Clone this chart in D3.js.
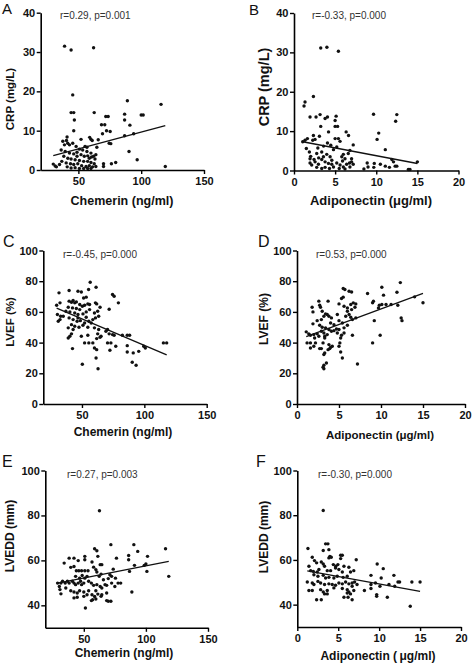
<!DOCTYPE html>
<html><head><meta charset="utf-8">
<script src="https://cdn.jsdelivr.net/npm/d3@7"></script>
<style>body{margin:0;background:#fff}svg{display:block;font-family:Arial,"Liberation Sans",sans-serif}</style>
</head><body><svg id="c" width="472" height="666"></svg>
<script>
// ---- data (x, y) ----
const chemerinCRP = [[39,31.5],[44.2,30.5],[62.1,31.1],[45.5,19.1],[89,17.6],[115.8,16.7],[44.2,14.6],[46.3,14.6],[62.6,14.6],[71.8,13.6],[73.7,13.6],[86.8,14.2],[100,14.0],[101.6,14.0],[46.8,12.7],[86.8,12.7],[68.4,11.5],[71,11.5],[46.3,10.0],[72.4,10.0],[75.3,9.8],[91,11.4],[69.2,9.2],[65.8,7.7],[41,8.4],[40.5,7.5],[41.5,6.8],[52.1,7.8],[59,8.3],[60,7.8],[61,7.5],[86.8,8.7],[94,9.2],[74.5,6.8],[75.8,6.7],[64.7,5.8],[56.8,5.8],[90.3,4.7],[96.8,2.6],[119.2,0.9],[79.7,1.9],[76.3,1.6],[70,1.6],[70,0.9],[30,1.5],[31.5,1.0],[32.5,0.8],
[37.6,7.3],[38.9,6.4],[42.9,6.4],[45.5,6.8],[48.2,6.0],[50.8,5.3],[53.4,5.1],[56.8,4.7],[60.0,4.3],[62.1,3.5],[63.9,3.9],[36.3,5.1],[39.5,4.7],[42.9,4.3],[46.3,4.1],[48.9,4.5],[52.1,3.9],[54.7,3.5],[57.4,3.6],[60.5,3.3],[63.2,2.8],[38.4,3.5],[41.6,3.0],[44.2,2.8],[47.4,2.6],[50.8,2.4],[54.2,2.2],[57.4,2.2],[60.0,1.9],[62.6,1.6],[36.8,2.2],[40.3,1.8],[43.7,1.6],[46.3,1.4],[49.5,1.6],[52.6,1.1],[56.1,0.9],[58.7,1.1],[61.3,0.8],[63.9,0.9],[41.1,0.8],[44.2,0.5],[47.4,0.6],[50.8,0.4],[54.2,0.4],[57.4,0.4],[60.0,0.4],[35.0,1.4],[48.9,3.5],[55.3,6.0],[58.7,3.0]];

const adiponectinCRP = [[3.25,31.1],[4.0,31.3],[5.4,30.3],[2.36,18.8],[1.34,17.4],[1.22,16.4],[1.95,13.6],[2.68,13.6],[3.17,14.2],[3.78,13.2],[4.07,13.6],[5.12,13.8],[5.0,12.7],[9.67,14.3],[12.5,14.2],[12.36,12.5],[3.25,11.2],[5.0,11.2],[5.3,11.2],[10.3,9.5],[10.1,7.9],[6.34,9.8],[6.63,8.9],[11.1,5.3],[1.06,7.3],[1.34,7.7],[1.63,8.1],[2.36,8.9],[2.56,7.9],[3.09,8.7],[2.28,7.7],[4.07,7.0],[4.47,6.4],[5.0,8.1],[5.4,8.1],[5.6,7.4],[5.2,6.0],[4.8,5.3],[6.8,5.1],[6.6,4.3],[11.9,2.8],[12.1,2.2],
[1.87,4.7],[2.03,3.6],[2.76,4.3],[3.37,4.7],[3.58,3.5],[3.98,4.1],[4.39,3.5],[5.81,3.5],[6.0,4.1],[6.2,3.0],[7.0,3.0],[1.95,1.9],[2.15,1.4],[2.56,2.2],[2.97,1.6],[3.37,2.8],[3.78,2.2],[4.19,1.8],[4.59,1.6],[4.8,0.9],[5.2,1.9],[5.6,1.4],[6.0,0.9],[6.4,1.6],[6.75,1.9],[7.0,2.2],[7.2,1.6],[2.76,0.8],[3.37,0.5],[3.78,0.8],[4.31,0.5],[5.5,0.5],[6.2,0.4],[6.8,0.9],[8.9,1.9],[9.0,0.9],[8.5,0.4],[9.7,0.8],[9.76,1.8],[10.5,1.6],[11.1,1.1],[11.6,0.8],[12.3,1.1],[12.5,1.1],[13.9,0.25],[14.1,0.25],[15,2.2],[1.95,3.0],[2.44,2.8],[4.6,2.6],[3.0,3.2],[5.9,2.4],[1.5,5.6],[2.9,5.7],[3.6,6.2],[4.2,9.8],[7.2,6.5]];

const chemerinLVEF = [[56.6,79.3],[61.3,76.1],[55.3,74.6],[31.6,72.4],[39.7,73.9],[46.8,73.5],[49.5,73.0],[51.3,69.1],[53.4,69.6],[74.5,71.3],[75.8,70.2],[79.2,65.9],[32.4,65.9],[29.7,64.3],[39.7,67],[41.6,66.3],[42.9,67.4],[44.2,65.9],[45.5,66.5],[48.2,64.8],[50.3,63.7],[52.1,64.3],[54.7,65.2],[56.1,64.8],[60.8,65.9],[61.8,65.2],[64.5,63.0],[39,63],[42.4,62.6],[45.5,62.2],[48.2,61.5],[56.1,61.5],[30.3,58.3],[32.9,57.2],[35,57.2],[40.3,60],[44.2,59.3],[46.8,58.3],[50.8,58.7],[53.4,60],[60,59.3],[62.6,60.4],[71.8,61.7],[63.4,57.2],[60.8,56.1],[58.7,55],[31,53.9],[32.4,55],[39.7,56.1],[42.9,55],[46.1,53.9],[48.7,54.3],[52.1,52.8],[55.5,53.9],[57.4,52.8],[41.6,51.7],[44.2,50.7],[47.6,50],[50.8,51.3],[54.7,50],[39,49.6],[42.9,48.5],[60,49.6],[63.4,48.5],[70.5,48.5],[69.2,47.4],[71.8,45.7],[74.5,45.2],[75.8,44.8],[82.4,44.8],[86.3,44.8],[88.2,44.8],[41.6,45.7],[40.3,44.1],[39,43.0],[49.5,44.1],[54.7,44.8],[62.6,45.7],[65.3,44.1],[61.8,42.6],[64.5,43.5],[70.5,39.8],[73.2,39.8],[52.1,39.8],[55.5,39.8],[58.7,39.8],[77.1,37.6],[86.3,38],[100.8,36.5],[99.5,37.6],[115.3,39.8],[117.9,39.8],[60,36.5],[61.8,35.4],[72.4,35],[86.3,33.9],[91.1,33.3],[95.5,34.3],[42.4,36.1],[61.3,30],[50.3,25.9],[62.9,23],[90.3,27.2],[93.4,25.2],[46.8,56.1],[53.4,56.5],[37.1,60.4]];

const adiponectinLVEF = [[12.3,79.1],[10.1,76.1],[10.3,70.9],[5.5,75.2],[5.7,74.6],[6.2,73.5],[6.5,73.0],[8.4,72],[11.9,72.8],[14,69.8],[15,66],[5.5,69.6],[5.3,68.7],[2.6,67],[2.7,64.3],[2.8,63],[3.7,67],[5,65.2],[5.6,63.7],[6,62.6],[6.4,64.8],[6.7,65.9],[7,65.2],[6.9,63],[6.5,61.5],[1.8,63],[1.9,60],[9.1,67],[9,65.9],[9.8,64.3],[10.1,64.8],[10.6,64.8],[11.2,64.8],[12,64.3],[9.7,62.6],[3,60.4],[3.4,58.7],[3.2,57.2],[3.6,58.3],[3.8,57.2],[4.1,56.1],[2.9,55],[2.4,54.3],[6,60.4],[6.2,58.3],[5.8,57.2],[6.4,56.5],[7,56.1],[6.6,55],[12.4,56.1],[12.5,54.3],[9.2,54.3],[1.9,52.2],[2.7,51.3],[3,50],[4,52.8],[4.4,51.7],[5,54.3],[5.4,52.8],[6,51.3],[5.6,49.6],[5,48.5],[4.7,48.9],[3.4,49.6],[3.8,48.5],[4.1,47.4],[1.1,47],[1.4,45.7],[1.6,44.8],[2,45.2],[2.4,45.7],[2.6,44.1],[2.1,43],[2.9,47.4],[3.2,46.3],[3.3,44.1],[3.6,45.2],[4.4,47.8],[4.8,46.3],[5.3,44.8],[5.2,43],[5.6,46.3],[6.6,44.8],[9.9,44.8],[1.2,39.8],[1.6,39.8],[2.2,39.8],[2,37.6],[1.6,36.5],[3.3,43],[3.1,39.8],[2.7,36.1],[2.9,36.1],[3.8,38.7],[4,37],[4.2,37.6],[3.7,35.4],[3.9,36.1],[5.1,39.8],[5,37.6],[3.3,33.3],[3.2,32.2],[5.2,33.9],[5.4,30],[3.5,26.7],[3.2,25.2],[3.2,23],[3.1,24],[7.2,26.1],[9,39.8],[4.8,58.3]];

const chemerinLVEDD = [[62.6,82.1],[71.8,67],[90.3,67],[58.7,65.2],[60.5,64.3],[61.3,61.8],[115.8,65.2],[93.4,64],[50.8,61.8],[50.8,60.3],[76.3,61],[86.1,62.2],[86.1,60.3],[101.3,61.8],[34.2,58.8],[38.2,61],[42.1,61],[45.5,59.9],[56.6,59.3],[63.2,58.1],[64.5,58.1],[73.7,56.1],[90.8,57.8],[98.7,57.8],[100,58.4],[100.8,55.1],[86.8,55.1],[118.4,52.9],[39.5,56.9],[42.1,57.3],[44,55.4],[46,55.4],[48.2,55.4],[50.8,55.4],[53.4,55.4],[57.9,57],[59.7,55.9],[63.9,53.9],[62.4,52.9],[60.5,54.8],[48.7,53.3],[50.8,52.1],[52.6,52.9],[46.6,52.1],[43.4,52.9],[71,53.6],[72.4,52.9],[69.7,51.9],[65.8,51.4],[75.5,52.1],[77.6,49.9],[79.7,49.9],[28.9,49.9],[30.3,48.4],[31.6,49.9],[32.9,50.7],[35,49.9],[36.8,50.7],[38.2,49.9],[40.8,50.7],[42.1,49.9],[43.4,49.2],[45.5,49.9],[47.4,50.7],[48.2,49.2],[50,49.9],[53.9,50.7],[56.1,49.9],[57.9,48.9],[60.5,49.2],[63.2,48.4],[67.1,49.2],[68.4,48.9],[72.4,49.9],[75,48.4],[30.8,47],[31.6,45.1],[35.5,47.7],[39.5,46.5],[42.1,45.9],[44.7,45.5],[46.6,46.5],[50,45.9],[53.9,46.5],[59.7,46.5],[64.5,47.7],[68.4,45.5],[56.6,44.7],[58.7,43.9],[59.7,42.8],[57.1,42.5],[56.1,42.1],[42.1,43.3],[44.7,43.6],[50,44],[52.6,44.7],[63.9,44],[68.4,42.1],[69.7,41.8],[71.8,41.8],[88.7,45.9],[51.3,38.8],[64.5,44.7],[61.3,45]];

const adiponectinLVEDD = [[3.17,82.1],[3.46,67.2],[3.74,67.2],[3.17,64.2],[3.86,64.6],[1.3,65.1],[3.98,61.6],[4.15,61.2],[3.86,60.9],[5.3,62.1],[5.5,62.1],[5.3,60.6],[7.2,60.1],[1.83,61.2],[2.1,59.7],[2.36,58.7],[2.93,59.1],[3.17,58.2],[3.33,57.2],[4.4,57.9],[4.7,57.2],[4.96,57.9],[5.7,57.2],[6.3,56.7],[9.76,58.2],[10.5,56.1],[1.42,57.2],[1.63,55.2],[1.95,54.9],[2.44,54.6],[2.64,55.7],[3.66,55.2],[4.07,55.2],[4.67,56.4],[5.08,55.7],[5.5,54.6],[6.5,54.6],[6.9,55.2],[9.0,53.1],[10.25,51.9],[11.8,53.1],[2.03,53.4],[2.52,52.7],[3.17,53.1],[3.46,51.9],[3.86,52.2],[4.47,51.9],[4.88,52.7],[5.6,52.2],[6.1,52.7],[1.22,50.1],[1.83,49.7],[2.03,49],[2.52,50.4],[2.85,49.7],[3.33,49],[3.86,49.3],[4.27,49],[4.67,48.7],[5.08,49.7],[5.5,49.3],[5.9,50.1],[6.3,49.3],[6.7,49.7],[7.0,50.1],[7.3,49],[9.0,49],[9.55,49.7],[10.1,48.2],[11.2,49],[11.9,48.2],[12.3,50.1],[12.5,50.1],[14,50.1],[15,50.1],[1.42,46.3],[1.83,46.3],[2.85,46.7],[3.17,45.7],[3.66,46.3],[4.47,47.5],[5.5,47.2],[6.1,46.7],[6.3,45.7],[6.9,46.3],[6.5,44.8],[6.1,45.2],[6.7,48.2],[3.33,44.8],[3.66,44.8],[8.2,46.3],[9,47.2],[9.7,44.5],[9.7,43.7],[5.7,43.3],[6.2,43.3],[6.7,42.2],[11,43.3],[2.36,42.2],[2.93,42.2],[13.8,39.3]];

// linear fits: slope, intercept
const fitSlopes = [0.086, -0.396, -0.345, 2.02, 0.108, -0.667];
const fitIntercepts = [1.05, 7.72, 72.65, 41.7, 46.8, 55.96];

const panelLetters = ["A","B","C","D","E","F"];
const statLabels = ["r=0.29, p=0.001","r=-0.33, p=0.000","r=-0.45, p=0.000","r=0.53, p=0.000","r=0.27, p=0.003","r=-0.30, p=0.000"];
const xTitles = ["Chemerin (ng/ml)","Adiponectin (\u03bcg/ml)","Chemerin (ng/ml)","Adiponectin (\u03bcg/ml)","Chemerin (ng/ml)","Adiponectin (\u2009\u03bcg/ml)"];
const yTitles = ["CRP (mg/L)","CRP (mg/L)","LVEF (%)","LVEF (%)","LVEDD (mm)","LVEDD (mm)"];
const chemTicks = [50,100,150];
const adipoTicks = [0,5,10,15,20];
const crpTicks = [0,10,20,30,40];
const lvefTicks = [0,20,40,60,80,100];
const lveddTicks = [40,60,80,100];

// ---- layout ----
const panels = [
 {data:chemerinCRP, xDom:[20,150], xR:[40.7,204], xT:chemTicks, yDom:[0,40], yR:[170,12.7], yT:crpTicks,
  letter:[2,14,15], stat:[60,18.5], xt:[122,205,12.5], yt:[10,99,11.5]},
 {data:adiponectinCRP, xDom:[0,20], xR:[294,458.5], xT:adipoTicks, yDom:[0,40], yR:[170.5,13], yT:crpTicks,
  letter:[249,15,15], stat:[312,18.5], xt:[371,205,13], yt:[263.5,87,14.5]},
 {data:chemerinLVEF, xDom:[19,150], xR:[43.3,206.7], xT:chemTicks, yDom:[0,100], yR:[404,250.5], yT:lvefTicks,
  letter:[3,247,16], stat:[63,258], xt:[123,436,12], yt:[10,322,11.5]},
 {data:adiponectinLVEF, xDom:[0,20], xR:[297,465], xT:adipoTicks, yDom:[0,100], yR:[404,250.5], yT:lvefTicks,
  letter:[258,247,16], stat:[316,258], xt:[380,439,11.5], yt:[263.5,319,12]},
 {data:chemerinLVEDD, xDom:[19,150], xR:[45.3,208], xT:chemTicks, yDom:[30,100], yR:[627.8,470.5], yT:lveddTicks,
  letter:[2,467,16], stat:[67,478], xt:[124,657,12], yt:[10,536,12]},
 {data:adiponectinLVEDD, xDom:[0,20], xR:[297.3,461], xT:adipoTicks, yDom:[30,100], yR:[627,470.5], yT:lveddTicks,
  letter:[256,467,16], stat:[318,478], xt:[378,660,12], yt:[263.5,537,12]}
];

const svg = d3.select("#c");
svg.append("rect").attr("width",472).attr("height",666).attr("fill","#fff");

panels.forEach((p,i)=>{
  const x = d3.scaleLinear().domain(p.xDom).range(p.xR);
  const y = d3.scaleLinear().domain(p.yDom).range(p.yR);
  const g = svg.append("g");

  const xa = g.append("g").attr("transform",`translate(0,${p.yR[0]})`)
    .call(d3.axisBottom(x).tickValues(p.xT).tickSize(4).tickPadding(3.5).tickSizeOuter(0).tickFormat(d3.format("d")));
  const ya = g.append("g").attr("transform",`translate(${p.xR[0]},0)`)
    .call(d3.axisLeft(y).tickValues(p.yT).tickSize(4).tickPadding(1.5).tickSizeOuter(0).tickFormat(d3.format("d")));
  [xa,ya].forEach(a=>{
    a.select(".domain").attr("stroke","#000").attr("stroke-width",1.6);
    a.selectAll(".tick line").attr("stroke","#000").attr("stroke-width",1.4);
    a.selectAll(".tick text").attr("fill","#111").attr("font-weight","bold").attr("font-size",11)
      .attr("font-family","Arial, 'Liberation Sans', sans-serif");
  });

  // points
  g.append("g").selectAll("circle").data(p.data).join("circle")
    .attr("cx",d=>x(d[0])).attr("cy",d=>y(d[1])).attr("r",1.7).attr("fill","#111");

  // fit line over data range
  const ext = d3.extent(p.data,d=>d[0]);
  const line = d3.line().x(d=>x(d)).y(d=>y(fitSlopes[i]*d+fitIntercepts[i]));
  g.append("path").attr("d",line(ext)).attr("stroke","#111").attr("stroke-width",1.3).attr("fill","none");

  // texts
  g.append("text").attr("x",p.letter[0]).attr("y",p.letter[1]).attr("font-size",p.letter[2])
    .attr("fill","#111").text(panelLetters[i]);
  g.append("text").attr("x",p.stat[0]).attr("y",p.stat[1]).attr("font-size",10)
    .attr("fill","#333").text(statLabels[i]);
  g.append("text").attr("x",p.xt[0]).attr("y",p.xt[1]).attr("text-anchor","middle")
    .attr("font-size",p.xt[2]).attr("font-weight","bold").attr("fill","#111").text(xTitles[i]);
  g.append("text").attr("transform",`translate(${p.yt[0]},${p.yt[1]}) rotate(-90)`)
    .attr("text-anchor","middle").attr("dominant-baseline","central")
    .attr("font-size",p.yt[2]).attr("font-weight","bold").attr("fill","#111").text(yTitles[i]);
});
</script></body></html>
